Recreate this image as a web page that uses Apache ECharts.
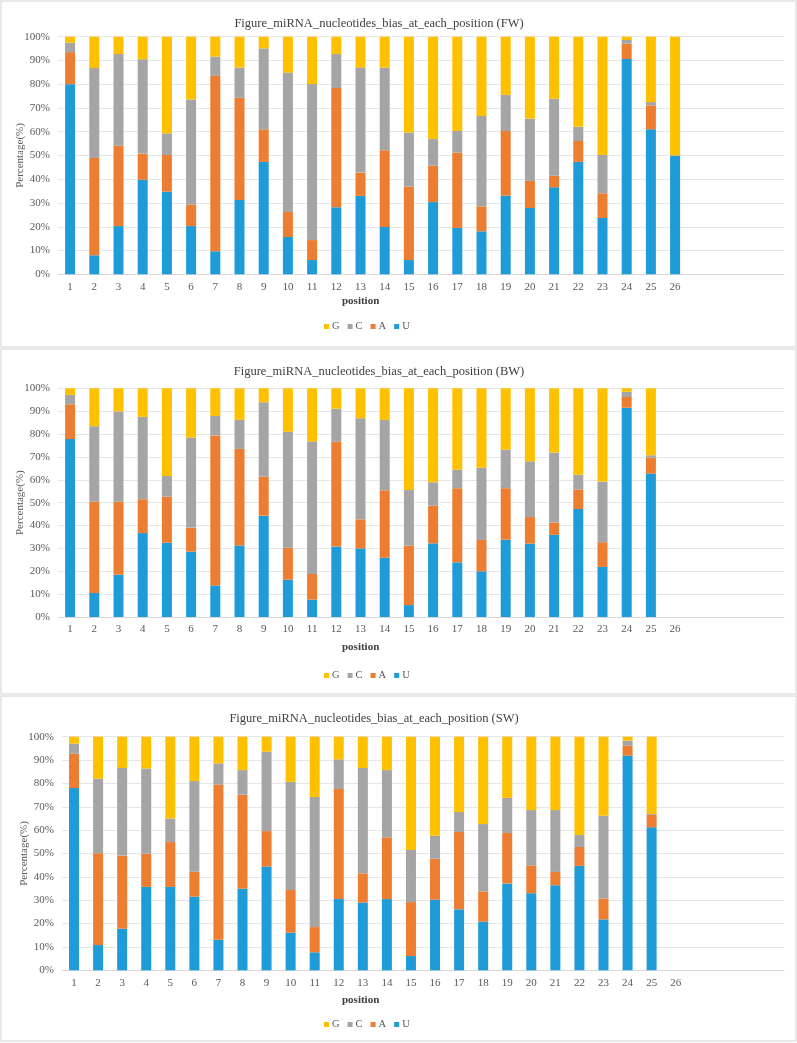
<!DOCTYPE html>
<html>
<head>
<meta charset="utf-8">
<script src="https://cdn.jsdelivr.net/npm/echarts@6/dist/echarts.min.js"></script>
<style>
html,body{margin:0;padding:0;background:#fff;}
#c{width:797px;height:1043px;}
</style>
</head>
<body>
<div id="c"></div>
<script>
// ---- data ----
const positions = ['1','2','3','4','5','6','7','8','9','10','11','12','13','14','15','16','17','18','19','20','21','22','23','24','25','26'];
const slotCount = 30; // axis has 30 slots, only 26 labelled
const yTicks = [0,10,20,30,40,50,60,70,80,90,100];
const chartTitles = [
  'Figure_miRNA_nucleotides_bias_at_each_position (FW)',
  'Figure_miRNA_nucleotides_bias_at_each_position (BW)',
  'Figure_miRNA_nucleotides_bias_at_each_position (SW)'
];
const seriesNames = ['U','A','C','G'];
const legendOrder = ['G','C','A','U'];

// FW
const fwU = [80,8,20.3,39.8,34.8,20.3,9.7,31.3,47.3,15.7,6,28.2,33,19.9,6,30.4,19.5,18.1,33.1,27.9,36.6,47.3,23.7,90.6,61,50];
const fwA = [13.5,41,33.8,11,15.4,9,73.8,43,13.7,10.5,8.4,50.2,9.8,32.3,30.9,15.3,31.7,10.5,27.2,11.4,4.9,8.8,10.4,6.5,10.1,0];
const fwC = [4,37.8,38.6,39.7,9.1,44.3,8.1,12.7,34.1,58.7,65.7,14.3,44.2,34.8,22.8,11.2,9.1,38,15.2,26.2,32.4,6,16.1,1.5,1.4,0];
const fwG = [2.5,13.2,7.3,9.5,40.7,26.4,8.4,13,4.9,15.1,19.9,7.3,13,13,40.3,43.1,39.7,33.4,24.5,34.5,26.1,37.9,49.8,1.4,27.5,50];
// BW
const bwU = [77.8,10.5,18.5,36.7,32.5,28.6,13.8,31.3,44.3,16.3,7.6,30.8,30,25.9,5.2,32.2,23.9,20,33.8,32.1,35.9,47.2,21.9,91.5,62.7,null];
const bwA = [15.2,39.9,31.9,14.8,20.1,10.5,65.6,42.2,17.1,14,11.2,45.9,12.7,29.5,26,16.5,32.4,13.7,22.5,11.6,5.4,8.5,10.8,4.7,7,null];
const bwC = [4.1,33,39.5,36,9.1,39.3,8.5,12.7,32.5,50.7,57.9,14.4,44.2,30.8,24.3,10.2,8.1,31.6,16.9,24.4,30.6,6.5,26.5,2.3,1,null];
const bwG = [2.9,16.6,10.1,12.5,38.3,21.6,12.1,13.8,6.1,19,23.3,8.9,13.1,13.8,44.5,41.1,35.6,34.7,26.8,31.9,28.1,37.8,40.8,1.5,29.3,null];
// SW
const swU = [78,10.8,17.8,35.7,35.7,31.5,13.1,34.9,44.4,16.1,7.7,30.5,29,30.5,6.1,30.2,26.1,20.8,37.2,33,36.4,44.7,21.8,91.9,61.2,null];
const swA = [14.7,39.3,31.3,14.2,19.2,10.7,66.4,40.3,15.2,18.3,10.8,47.1,12.5,26.4,23.1,17.6,33.1,13,21.6,11.9,5.7,8.1,8.9,4.2,5.3,null];
const swC = [4.3,31.9,37.5,36.5,10.1,38.8,9.1,10.5,34,46.3,55.7,12.7,45.1,28.8,22.3,9.8,8.6,28.8,15,23.7,26.5,5.1,35.5,2.2,0.4,null];
const swG = [3,18,13.4,13.6,35,19,11.4,14.3,6.4,19.3,25.8,9.7,13.4,14.3,48.5,42.4,32.2,37.4,26.2,31.4,31.4,42.1,33.8,1.7,33.1,null];

const colors = {U:'#1f9bd7', A:'#ed7d31', C:'#a5a5a5', G:'#ffc000'};

// ---- layout ----
const layouts = [
  {top:36.7, height:237.6, left:58, width:726, titleX:374, titleY:12, posY:296, legY:316, panel:[1,1,795,346]},
  {top:388.3, height:228.7, left:58, width:726, titleX:374, titleY:360, posY:642, legY:665, panel:[1,349,795,345]},
  {top:736.7, height:233.6, left:62, width:722, titleX:369, titleY:707, posY:995, legY:1014, panel:[1,696,795,345]}
];
const dataSets = [
  {U:fwU, A:fwA, C:fwC, G:fwG},
  {U:bwU, A:bwA, C:bwC, G:bwG},
  {U:swU, A:swA, C:swC, G:swG}
];

const categories = [];
for (let i = 0; i < slotCount; i++) categories.push(String(i + 1));

const serif = '"Liberation Serif", "DejaVu Serif", serif';
const option = {
  animation:false,
  backgroundColor:'#fff',
  title:[], grid:[], xAxis:[], yAxis:[], legend:[], series:[], graphic:[]
};

layouts.forEach((L, k) => {
  option.graphic.push({
    type:'rect', shape:{x:L.panel[0], y:L.panel[1], width:L.panel[2], height:L.panel[3]},
    style:{fill:'none', stroke:'#e2e2e2', lineWidth:1.5}, silent:true, z:-10
  });
  option.title.push({
    text:chartTitles[k], left:L.titleX, top:L.titleY, textAlign:'center',
    textStyle:{fontFamily:serif, fontSize:12.5, fontWeight:'normal', color:'#404040'}
  });
  option.grid.push({left:L.left, top:L.top, width:L.width, height:L.height, containLabel:false});
  option.xAxis.push({
    type:'category', gridIndex:k, data:categories,
    axisLine:{lineStyle:{color:'#d9d9d9'}}, axisTick:{show:false},
    axisLabel:{fontFamily:serif, fontSize:11, color:'#595959', margin:7,
      formatter:(v, i) => (i < positions.length ? positions[i] : '')}
  });
  option.yAxis.push({
    type:'value', gridIndex:k, min:yTicks[0], max:yTicks[yTicks.length-1], interval:10,
    axisLine:{show:false}, axisTick:{show:false},
    splitLine:{lineStyle:{color:'#e6e6e6'}},
    axisLabel:{fontFamily:serif, fontSize:11, color:'#595959', margin:8, formatter:'{value}%'},
    name:'Percentage(%)', nameLocation:'middle', nameGap:32, nameMoveOverlap:false,
    nameTextStyle:{fontFamily:serif, fontSize:11, color:'#595959'}
  });
  option.legend.push({
    data:legendOrder, left:319, top:L.legY, itemWidth:5, itemHeight:5, itemGap:8,
    icon:'rect', selectedMode:false,
    textStyle:{fontFamily:serif, fontSize:10.5, color:'#595959', padding:[0,0,0,-2]}
  });
  option.graphic.push({
    type:'text', left:342, top:L.posY,
    style:{text:'position', font:'bold 11px ' + serif, fill:'#404040'}
  });
  seriesNames.forEach(n => {
    option.series.push({
      name:n, type:'bar', stack:'s' + k, xAxisIndex:k, yAxisIndex:k,
      barWidth:10, data:dataSets[k][n], itemStyle:{color:colors[n]}
    });
  });
});

const chart = echarts.init(document.getElementById('c'), null, {renderer:'canvas'});
chart.setOption(option);
</script>
</body>
</html>
